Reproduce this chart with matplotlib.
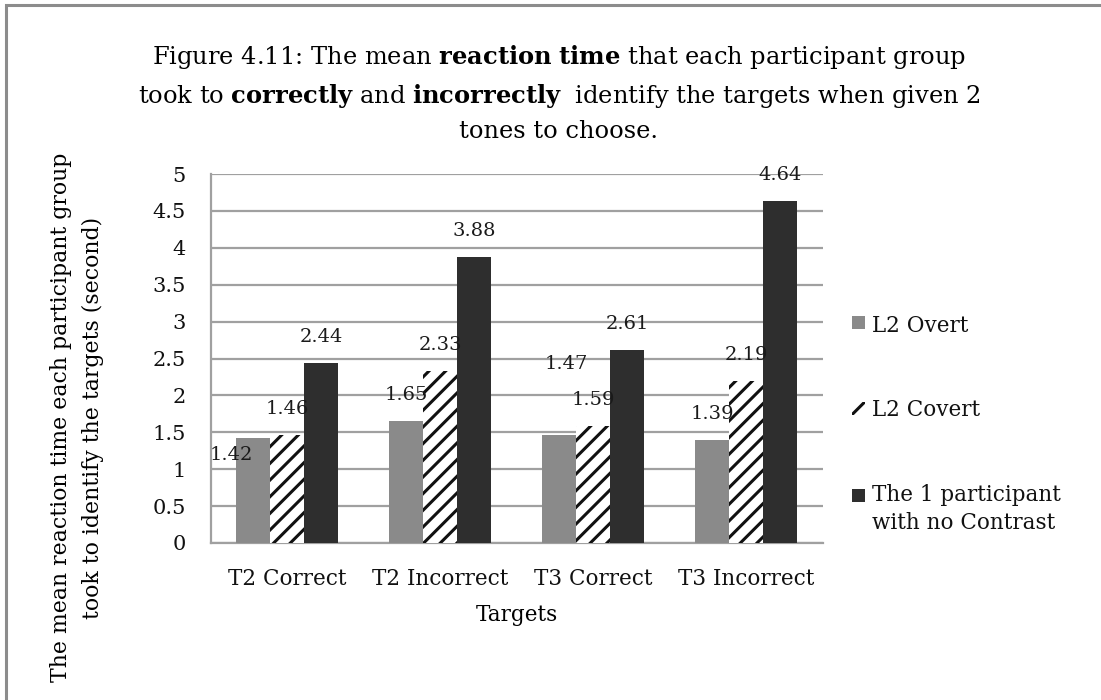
import numpy as np
import matplotlib
matplotlib.use('Agg')
import matplotlib.pyplot as plt
from matplotlib.patches import Rectangle

categories = ['T2 Correct', 'T2 Incorrect', 'T3 Correct', 'T3 Incorrect']
groups = ['L2 Overt', 'L2 Covert', 'The 1 participant\nwith no Contrast']
l2_overt = [1.42, 1.65, 1.47, 1.39]
l2_covert = [1.46, 2.33, 1.59, 2.19]
no_contrast = [2.44, 3.88, 2.61, 4.64]
yticks = [0, 0.5, 1, 1.5, 2, 2.5, 3, 3.5, 4, 4.5, 5]

plt.rcParams['font.family'] = 'DejaVu Serif'
plt.rcParams['mathtext.fontset'] = 'dejavuserif'
plt.rcParams['hatch.linewidth'] = 2.2

W, H = 1101, 700
fig = plt.figure(figsize=(W / 100, H / 100), dpi=100)
ax = fig.add_axes([210.7 / W, 1 - 543 / H, (823 - 210.7) / W, (543 - 174) / H])

def px(xp, yp):
    # pixel position (from top left) -> figure fraction
    return xp / W, 1 - yp / H

x = np.arange(len(categories))
w = 0.222
styles = [
    dict(facecolor='#8a8a8a', edgecolor='#8a8a8a', linewidth=0),
    dict(facecolor='white', edgecolor='#111111', hatch='//', linewidth=0),
    dict(facecolor='#2e2e2e', edgecolor='#2e2e2e', linewidth=0),
]
series = [l2_overt, l2_covert, no_contrast]
bars = []
for i, (vals, st, name) in enumerate(zip(series, styles, groups)):
    b = ax.bar(x + (i - 1) * w, vals, w, label=name, zorder=3, **st)
    bars.append(b)

# value labels, Excel put a couple of them in odd places
offsets = {(0, 0): (-22, -17), (0, 2): (7, 71)}
for i, b in enumerate(bars):
    for j, rect in enumerate(b):
        v = series[i][j]
        dx, dy = offsets.get((i, j), (0, 26))
        ax.annotate(f'{v:.2f}', (rect.get_x() + rect.get_width() / 2, v),
                    xytext=(dx, dy), textcoords='offset pixels',
                    ha='center', va='center', fontsize=14, color='#1a1a1a', zorder=4)

ax.set_xlim(-0.5, 3.5)
ax.set_ylim(0, 5)
ax.set_yticks(yticks)
ax.set_yticklabels([f'{t:g}' for t in yticks])
ax.set_xticks(x)
ax.set_xticklabels(categories)
ax.tick_params(axis='both', length=0, colors='#111111')
ax.tick_params(axis='y', pad=18, labelsize=15)
ax.tick_params(axis='x', pad=18, labelsize=15.5)
ax.yaxis.grid(True, color='#a0a0a0', linewidth=1.6, zorder=0)
ax.set_axisbelow(True)
for s in ['top', 'right']:
    ax.spines[s].set_visible(False)
for s in ['left', 'bottom']:
    ax.spines[s].set_color('#a0a0a0')
    ax.spines[s].set_linewidth(1.6)

ax.set_xlabel('Targets', fontsize=15.5, labelpad=10)

fig.text(*px(77, 153),
         'The mean reaction time each participant group\ntook to identify the targets (second)',
         rotation=90, ha='center', va='top', fontsize=15.8, multialignment='center',
         linespacing=1.6)

title = ('Figure 4.11: The mean $\\mathbf{reaction\\ time}$ that each participant group\n'
         'took to $\\mathbf{correctly}$ and $\\mathbf{incorrectly}$  identify the targets when given 2\n'
         'tones to choose.')
fig.text(*px(559, 43), title, ha='center', va='top', fontsize=17.4,
         multialignment='center', linespacing=1.53)

# legend, laid out by hand so the swatch sits on the first line of a two-line label
legend_y = [323, 408, 495]
text_y = [326, 410, 509]
for st, name, hy, ty in zip(styles, groups, legend_y, text_y):
    sw = Rectangle(px(852, hy + 6.5), 13 / W, 13 / H, transform=fig.transFigure, **st)
    fig.add_artist(sw)
    fig.text(*px(872, ty), name, ha='left', va='center', fontsize=15.5,
             color='#111111', linespacing=1.39)

# grey frame round the chart (right and bottom run off the picture)
fig.add_artist(Rectangle((6 / W, -0.05), 1.2, 1 - 5 / H + 0.05, transform=fig.transFigure,
                         fill=False, edgecolor='#8c8c8c', linewidth=2.2))

fig.savefig('out.png', dpi=100)
